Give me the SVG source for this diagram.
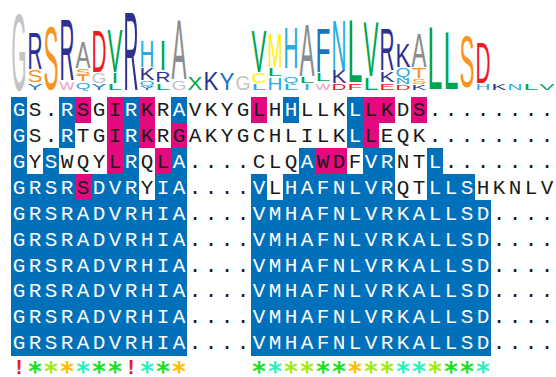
<svg xmlns="http://www.w3.org/2000/svg" width="556" height="377" viewBox="0 0 556 377">
<style>
.lg{font-family:"Liberation Sans",Arial,sans-serif;font-size:20px}
.gG{fill:#c4c4c4}.gA{fill:#8c8c8c}.nv{fill:#2e3192}.or{fill:#f7941d}.pk{fill:#f49ac2}.rd{fill:#ed1c24}.gr{fill:#00a651}.lb{fill:#29abe2}.bl{fill:#1c75bc}.ye{fill:#fff200}
.b{fill:#0070bb}.m{fill:#e5097f}
rect{shape-rendering:crispEdges}
.seq{font-family:"Liberation Mono","Courier New",monospace;font-size:21px;text-anchor:middle;fill:#1a1a1a}
.w{fill:#ffffff}
.st{font-family:"DejaVu Sans",sans-serif;font-weight:bold;font-size:26px;text-anchor:middle}
.ex{font-family:"Liberation Sans",sans-serif;font-weight:bold;font-size:20px;text-anchor:middle;fill:#e8191e}
.k1{fill:#22dd22}.k2{fill:#a6e812}.k3{fill:#ffbb00}.k4{fill:#33eebb}
</style>
<rect width="556" height="377" fill="#ffffff"/>
<g id="logo">
<text class="lg gG" x="11.5" transform="matrix(1 0 0 5.447 0 90)" textLength="15" lengthAdjust="spacingAndGlyphs">G</text>
<text class="lg nv" x="27.5" transform="matrix(1 0 0 2.584 0 69)" textLength="15" lengthAdjust="spacingAndGlyphs">R</text>
<text class="lg or" x="27.5" transform="matrix(1 0 0 0.838 0 82)" textLength="15" lengthAdjust="spacingAndGlyphs">S</text>
<text class="lg bl" x="27.5" transform="matrix(1 0 0 0.489 0 90)" textLength="15" lengthAdjust="spacingAndGlyphs">Y</text>
<text class="lg or" x="43.5" transform="matrix(1 0 0 4.469 0 89)" textLength="15" lengthAdjust="spacingAndGlyphs">S</text>
<text class="lg nv" x="59.5" transform="matrix(1 0 0 4.399 0 80)" textLength="15" lengthAdjust="spacingAndGlyphs">R</text>
<text class="lg pk" x="59.5" transform="matrix(1 0 0 0.559 0 90)" textLength="15" lengthAdjust="spacingAndGlyphs">W</text>
<text class="lg gA" x="75.5" transform="matrix(1 0 0 1.816 0 68)" textLength="15" lengthAdjust="spacingAndGlyphs">A</text>
<text class="lg or" x="75.5" transform="matrix(1 0 0 0.489 0 75)" textLength="15" lengthAdjust="spacingAndGlyphs">S</text>
<text class="lg or" x="75.5" transform="matrix(1 0 0 0.419 0 81)" textLength="15" lengthAdjust="spacingAndGlyphs">T</text>
<text class="lg lb" x="75.5" transform="matrix(1 0 0 0.489 0 89)" textLength="15" lengthAdjust="spacingAndGlyphs">Q</text>
<text class="lg rd" x="91.5" transform="matrix(1 0 0 2.933 0 72)" textLength="15" lengthAdjust="spacingAndGlyphs">D</text>
<text class="lg gG" x="91.5" transform="matrix(1 0 0 0.698 0 83)" textLength="15" lengthAdjust="spacingAndGlyphs">G</text>
<text class="lg bl" x="91.5" transform="matrix(1 0 0 0.419 0 90)" textLength="15" lengthAdjust="spacingAndGlyphs">Y</text>
<text class="lg gr" x="107.5" transform="matrix(1 0 0 3.073 0 72)" textLength="15" lengthAdjust="spacingAndGlyphs">V</text>
<text class="lg gr" x="111.5" transform="matrix(1 0 0 0.768 0 83)" textLength="7" lengthAdjust="spacingAndGlyphs">I</text>
<text class="lg gr" x="107.5" transform="matrix(1 0 0 0.419 0 90)" textLength="15" lengthAdjust="spacingAndGlyphs">L</text>
<text class="lg nv" x="123.5" transform="matrix(1 0 0 5.587 0 90)" textLength="15" lengthAdjust="spacingAndGlyphs">R</text>
<text class="lg lb" x="139.5" transform="matrix(1 0 0 1.885 0 67)" textLength="15" lengthAdjust="spacingAndGlyphs">H</text>
<text class="lg nv" x="139.5" transform="matrix(1 0 0 0.838 0 80)" textLength="15" lengthAdjust="spacingAndGlyphs">K</text>
<text class="lg lb" x="139.5" transform="matrix(1 0 0 0.349 0 86)" textLength="15" lengthAdjust="spacingAndGlyphs">Q</text>
<text class="lg bl" x="139.5" transform="matrix(1 0 0 0.279 0 90)" textLength="15" lengthAdjust="spacingAndGlyphs">Y</text>
<text class="lg gr" x="159.5" transform="matrix(1 0 0 2.095 0 70)" textLength="7" lengthAdjust="spacingAndGlyphs">I</text>
<text class="lg nv" x="155.5" transform="matrix(1 0 0 0.698 0 82)" textLength="15" lengthAdjust="spacingAndGlyphs">R</text>
<text class="lg gr" x="155.5" transform="matrix(1 0 0 0.419 0 90)" textLength="15" lengthAdjust="spacingAndGlyphs">L</text>
<text class="lg gA" x="171.5" transform="matrix(1 0 0 4.260 0 79)" textLength="15" lengthAdjust="spacingAndGlyphs">A</text>
<text class="lg gG" x="171.5" transform="matrix(1 0 0 0.628 0 90)" textLength="15" lengthAdjust="spacingAndGlyphs">G</text>
<text class="lg gr" x="187.5" transform="matrix(1 0 0 0.908 0 90)" textLength="15" lengthAdjust="spacingAndGlyphs">X</text>
<text class="lg nv" x="203.5" transform="matrix(1 0 0 1.257 0 90)" textLength="15" lengthAdjust="spacingAndGlyphs">K</text>
<text class="lg bl" x="219.5" transform="matrix(1 0 0 1.187 0 90)" textLength="15" lengthAdjust="spacingAndGlyphs">Y</text>
<text class="lg gG" x="235.5" transform="matrix(1 0 0 1.047 0 90)" textLength="15" lengthAdjust="spacingAndGlyphs">G</text>
<text class="lg gr" x="251.5" transform="matrix(1 0 0 2.933 0 72)" textLength="15" lengthAdjust="spacingAndGlyphs">V</text>
<text class="lg ye" x="251.5" transform="matrix(1 0 0 0.768 0 83)" textLength="15" lengthAdjust="spacingAndGlyphs">C</text>
<text class="lg lb" x="251.5" transform="matrix(1 0 0 0.419 0 90)" textLength="15" lengthAdjust="spacingAndGlyphs">L</text>
<text class="lg ye" x="267.5" transform="matrix(1 0 0 2.374 0 67)" textLength="15" lengthAdjust="spacingAndGlyphs">M</text>
<text class="lg gr" x="267.5" transform="matrix(1 0 0 0.559 0 76)" textLength="15" lengthAdjust="spacingAndGlyphs">L</text>
<text class="lg lb" x="267.5" transform="matrix(1 0 0 0.838 0 90)" textLength="15" lengthAdjust="spacingAndGlyphs">H</text>
<text class="lg lb" x="283.5" transform="matrix(1 0 0 2.863 0 68)" textLength="15" lengthAdjust="spacingAndGlyphs">H</text>
<text class="lg lb" x="283.5" transform="matrix(1 0 0 0.489 0 83)" textLength="15" lengthAdjust="spacingAndGlyphs">Q</text>
<text class="lg lb" x="283.5" transform="matrix(1 0 0 0.419 0 90)" textLength="15" lengthAdjust="spacingAndGlyphs">L</text>
<text class="lg gA" x="299.5" transform="matrix(1 0 0 3.701 0 76)" textLength="15" lengthAdjust="spacingAndGlyphs">A</text>
<text class="lg gr" x="299.5" transform="matrix(1 0 0 0.419 0 83)" textLength="15" lengthAdjust="spacingAndGlyphs">L</text>
<text class="lg lb" x="303.5" transform="matrix(1 0 0 0.419 0 90)" textLength="7" lengthAdjust="spacingAndGlyphs">I</text>
<text class="lg bl" x="315.5" transform="matrix(1 0 0 3.142 0 72)" textLength="15" lengthAdjust="spacingAndGlyphs">F</text>
<text class="lg gr" x="315.5" transform="matrix(1 0 0 0.559 0 81)" textLength="15" lengthAdjust="spacingAndGlyphs">L</text>
<text class="lg pk" x="315.5" transform="matrix(1 0 0 0.489 0 90)" textLength="15" lengthAdjust="spacingAndGlyphs">W</text>
<text class="lg lb" x="331.5" transform="matrix(1 0 0 3.492 0 70)" textLength="15" lengthAdjust="spacingAndGlyphs">N</text>
<text class="lg nv" x="331.5" transform="matrix(1 0 0 0.908 0 83)" textLength="15" lengthAdjust="spacingAndGlyphs">K</text>
<text class="lg rd" x="331.5" transform="matrix(1 0 0 0.419 0 90)" textLength="15" lengthAdjust="spacingAndGlyphs">D</text>
<text class="lg gr" x="347.5" transform="matrix(1 0 0 4.469 0 82)" textLength="15" lengthAdjust="spacingAndGlyphs">L</text>
<text class="lg rd" x="347.5" transform="matrix(1 0 0 0.489 0 90)" textLength="15" lengthAdjust="spacingAndGlyphs">F</text>
<text class="lg gr" x="363.5" transform="matrix(1 0 0 3.911 0 76)" textLength="15" lengthAdjust="spacingAndGlyphs">V</text>
<text class="lg gr" x="363.5" transform="matrix(1 0 0 0.838 0 90)" textLength="15" lengthAdjust="spacingAndGlyphs">L</text>
<text class="lg nv" x="379.5" transform="matrix(1 0 0 2.933 0 70)" textLength="15" lengthAdjust="spacingAndGlyphs">R</text>
<text class="lg nv" x="379.5" transform="matrix(1 0 0 0.698 0 82)" textLength="15" lengthAdjust="spacingAndGlyphs">K</text>
<text class="lg rd" x="379.5" transform="matrix(1 0 0 0.489 0 90)" textLength="15" lengthAdjust="spacingAndGlyphs">E</text>
<text class="lg nv" x="395.5" transform="matrix(1 0 0 1.676 0 67)" textLength="15" lengthAdjust="spacingAndGlyphs">K</text>
<text class="lg lb" x="395.5" transform="matrix(1 0 0 0.628 0 77)" textLength="15" lengthAdjust="spacingAndGlyphs">Q</text>
<text class="lg lb" x="395.5" transform="matrix(1 0 0 0.419 0 84)" textLength="15" lengthAdjust="spacingAndGlyphs">N</text>
<text class="lg rd" x="395.5" transform="matrix(1 0 0 0.349 0 90)" textLength="15" lengthAdjust="spacingAndGlyphs">D</text>
<text class="lg gA" x="411.5" transform="matrix(1 0 0 2.374 0 67)" textLength="15" lengthAdjust="spacingAndGlyphs">A</text>
<text class="lg or" x="411.5" transform="matrix(1 0 0 0.698 0 78)" textLength="15" lengthAdjust="spacingAndGlyphs">T</text>
<text class="lg or" x="411.5" transform="matrix(1 0 0 0.349 0 84)" textLength="15" lengthAdjust="spacingAndGlyphs">S</text>
<text class="lg nv" x="411.5" transform="matrix(1 0 0 0.349 0 90)" textLength="15" lengthAdjust="spacingAndGlyphs">K</text>
<text class="lg gr" x="427.5" transform="matrix(1 0 0 4.469 0 89)" textLength="15" lengthAdjust="spacingAndGlyphs">L</text>
<text class="lg gr" x="443.5" transform="matrix(1 0 0 4.120 0 89)" textLength="15" lengthAdjust="spacingAndGlyphs">L</text>
<text class="lg or" x="459.5" transform="matrix(1 0 0 3.631 0 87)" textLength="15" lengthAdjust="spacingAndGlyphs">S</text>
<text class="lg rd" x="475.5" transform="matrix(1 0 0 2.863 0 83)" textLength="15" lengthAdjust="spacingAndGlyphs">D</text>
<text class="lg lb" x="475.5" transform="matrix(1 0 0 0.419 0 90)" textLength="15" lengthAdjust="spacingAndGlyphs">H</text>
<text class="lg nv" x="491.5" transform="matrix(1 0 0 0.419 0 90)" textLength="15" lengthAdjust="spacingAndGlyphs">K</text>
<text class="lg lb" x="507.5" transform="matrix(1 0 0 0.419 0 90)" textLength="15" lengthAdjust="spacingAndGlyphs">N</text>
<text class="lg gr" x="523.5" transform="matrix(1 0 0 0.419 0 90)" textLength="15" lengthAdjust="spacingAndGlyphs">L</text>
<text class="lg gr" x="539.5" transform="matrix(1 0 0 0.419 0 90)" textLength="15" lengthAdjust="spacingAndGlyphs">V</text>
</g>
<g id="highlights">
<rect class="b" x="11" y="96.6" width="16" height="77.79"/>
<rect class="b" x="59" y="96.6" width="16" height="51.86"/>
<rect class="m" x="75" y="96.6" width="16" height="25.93"/>
<rect class="m" x="107" y="96.6" width="16" height="77.79"/>
<rect class="b" x="123" y="96.6" width="16" height="77.79"/>
<rect class="m" x="139" y="96.6" width="16" height="51.86"/>
<rect class="b" x="171" y="96.6" width="16" height="25.93"/>
<rect class="m" x="251" y="96.6" width="16" height="25.93"/>
<rect class="b" x="283" y="96.6" width="16" height="25.93"/>
<rect class="b" x="347" y="96.6" width="16" height="51.86"/>
<rect class="m" x="363" y="96.6" width="32" height="25.93"/>
<rect class="m" x="411" y="96.6" width="16" height="25.93"/>
<rect class="m" x="171" y="122.53" width="16" height="25.93"/>
<rect class="m" x="363" y="122.53" width="16" height="25.93"/>
<rect class="b" x="43" y="148.46" width="16" height="25.93"/>
<rect class="m" x="155" y="148.46" width="16" height="25.93"/>
<rect class="b" x="171" y="148.46" width="16" height="25.93"/>
<rect class="b" x="299" y="148.46" width="16" height="25.93"/>
<rect class="m" x="315" y="148.46" width="32" height="25.93"/>
<rect class="b" x="363" y="148.46" width="32" height="25.93"/>
<rect class="b" x="427" y="148.46" width="16" height="25.93"/>
<rect class="b" x="11" y="174.39" width="64" height="25.93"/>
<rect class="m" x="75" y="174.39" width="16" height="25.93"/>
<rect class="b" x="91" y="174.39" width="48" height="25.93"/>
<rect class="b" x="155" y="174.39" width="32" height="25.93"/>
<rect class="b" x="251" y="174.39" width="16" height="25.93"/>
<rect class="b" x="283" y="174.39" width="112" height="25.93"/>
<rect class="b" x="427" y="174.39" width="48" height="25.93"/>
<rect class="b" x="11" y="200.32" width="176" height="155.58"/>
<rect class="b" x="251" y="200.32" width="240" height="155.58"/>
</g>
<g id="sequences" class="seq">
<text x="19 35 51 67 83 99 115 131 147 163 179 195 211 227 243 259 275 291 307 323 339 355 371 387 403 419 435 451 467 483 499 515 531 547" y="115.9"><tspan class="w">G</tspan>S.<tspan class="w">R</tspan>SGI<tspan class="w">R</tspan>KR<tspan class="w">A</tspan>VKYGLH<tspan class="w">H</tspan>LLK<tspan class="w">L</tspan>LKDS........</text>
<text x="19 35 51 67 83 99 115 131 147 163 179 195 211 227 243 259 275 291 307 323 339 355 371 387 403 419 435 451 467 483 499 515 531 547" y="141.8"><tspan class="w">G</tspan>S.<tspan class="w">R</tspan>TGI<tspan class="w">R</tspan>KRGAKYGCHLILK<tspan class="w">L</tspan>LEQK........</text>
<text x="19 35 51 67 83 99 115 131 147 163 179 195 211 227 243 259 275 291 307 323 339 355 371 387 403 419 435 451 467 483 499 515 531 547" y="167.8"><tspan class="w">G</tspan>Y<tspan class="w">S</tspan>WQYL<tspan class="w">R</tspan>QL<tspan class="w">A</tspan>....CLQ<tspan class="w">A</tspan>WDF<tspan class="w">VR</tspan>NT<tspan class="w">L</tspan>.......</text>
<text x="19 35 51 67 83 99 115 131 147 163 179 195 211 227 243 259 275 291 307 323 339 355 371 387 403 419 435 451 467 483 499 515 531 547" y="193.7"><tspan class="w">GRSR</tspan>S<tspan class="w">DVR</tspan>Y<tspan class="w">IA</tspan>....<tspan class="w">V</tspan>L<tspan class="w">HAFNLVR</tspan>QT<tspan class="w">LLS</tspan>HKNLV</text>
<text x="19 35 51 67 83 99 115 131 147 163 179 195 211 227 243 259 275 291 307 323 339 355 371 387 403 419 435 451 467 483 499 515 531 547" y="219.6"><tspan class="w">GRSRADVRHIA</tspan>....<tspan class="w">VMHAFNLVRKALLSD</tspan>....</text>
<text x="19 35 51 67 83 99 115 131 147 163 179 195 211 227 243 259 275 291 307 323 339 355 371 387 403 419 435 451 467 483 499 515 531 547" y="245.6"><tspan class="w">GRSRADVRHIA</tspan>....<tspan class="w">VMHAFNLVRKALLSD</tspan>....</text>
<text x="19 35 51 67 83 99 115 131 147 163 179 195 211 227 243 259 275 291 307 323 339 355 371 387 403 419 435 451 467 483 499 515 531 547" y="271.5"><tspan class="w">GRSRADVRHIA</tspan>....<tspan class="w">VMHAFNLVRKALLSD</tspan>....</text>
<text x="19 35 51 67 83 99 115 131 147 163 179 195 211 227 243 259 275 291 307 323 339 355 371 387 403 419 435 451 467 483 499 515 531 547" y="297.4"><tspan class="w">GRSRADVRHIA</tspan>....<tspan class="w">VMHAFNLVRKALLSD</tspan>....</text>
<text x="19 35 51 67 83 99 115 131 147 163 179 195 211 227 243 259 275 291 307 323 339 355 371 387 403 419 435 451 467 483 499 515 531 547" y="323.3"><tspan class="w">GRSRADVRHIA</tspan>....<tspan class="w">VMHAFNLVRKALLSD</tspan>....</text>
<text x="19 35 51 67 83 99 115 131 147 163 179 195 211 227 243 259 275 291 307 323 339 355 371 387 403 419 435 451 467 483 499 515 531 547" y="349.3"><tspan class="w">GRSRADVRHIA</tspan>....<tspan class="w">VMHAFNLVRKALLSD</tspan>....</text>
</g>
<g id="conservation">
<text class="ex" x="19 131" y="374">!!</text>
<text class="st" x="35 51 67 83 99 115 147 163 179 259 275 291 307 323 339 355 371 387 403 419 435 451 467 483" y="381"><tspan class="k1">*</tspan><tspan class="k2">*</tspan><tspan class="k3">*</tspan><tspan class="k4">*</tspan><tspan class="k1">**</tspan><tspan class="k4">*</tspan><tspan class="k1">*</tspan><tspan class="k3">*</tspan><tspan class="k1">*</tspan><tspan class="k4">*</tspan><tspan class="k2">**</tspan><tspan class="k1">**</tspan><tspan class="k3">*</tspan><tspan class="k2">**</tspan><tspan class="k4">**</tspan><tspan class="k2">*</tspan><tspan class="k1">**</tspan><tspan class="k4">*</tspan></text>
</g>
</svg>
